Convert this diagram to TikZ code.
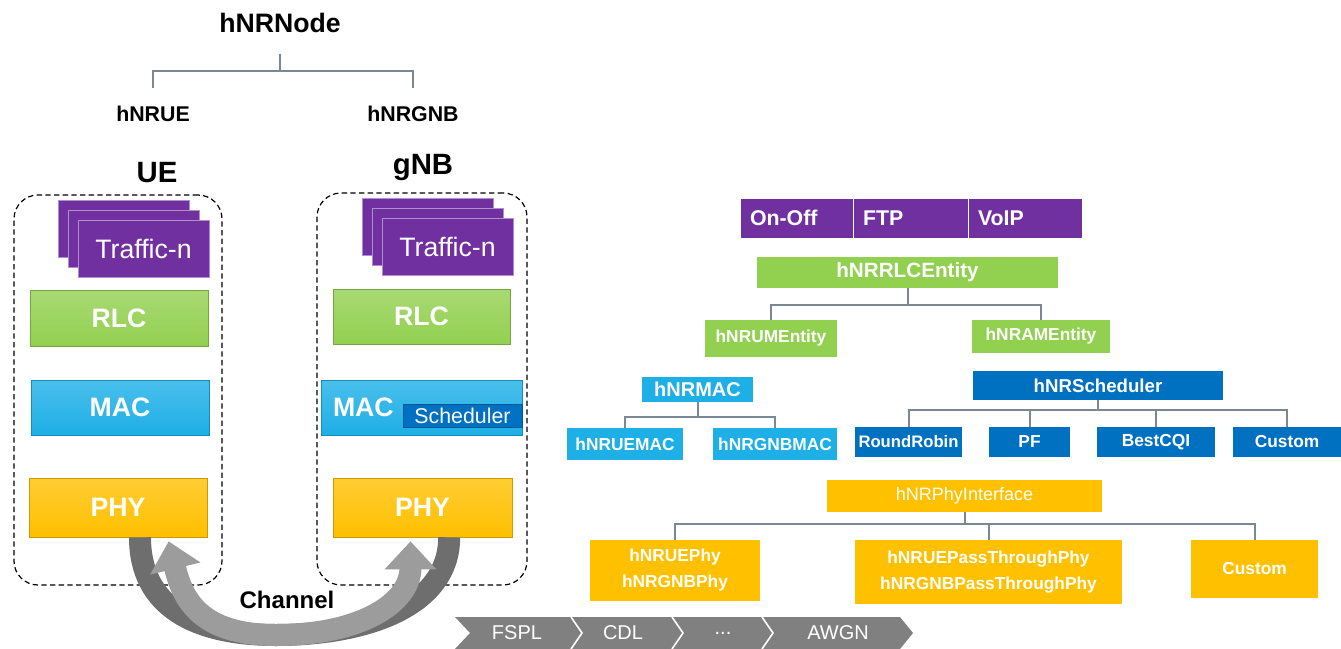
\documentclass[tikz,border=0pt]{standalone}
\usepackage{fontspec}
\setmainfont{Liberation Sans}
\usetikzlibrary{arrows.meta,positioning}

\definecolor{trafficpurple}{HTML}{7030A0}
\definecolor{rlcgreen}{HTML}{92D050}
\definecolor{maccyan}{HTML}{1DAFE6}
\definecolor{schedblue}{HTML}{0070C0}
\definecolor{phyyellow}{HTML}{FFC000}
\definecolor{treegray}{HTML}{7A8795}
\definecolor{chdark}{HTML}{6E6E6E}
\definecolor{chlight}{HTML}{9C9C9C}
\definecolor{pipegray}{HTML}{808080}

\begin{document}
\begin{tikzpicture}[
        x=0.75pt, y=-0.75pt,
        every node/.style={align=center, inner sep=0pt},
        dashframe/.style={rectangle, draw=black, dash pattern=on 4pt off 2.5pt,
                line width=0.9pt, rounded corners=18pt},
        layerbox/.style={rectangle, text=white, draw=#1!80!black, line width=0.5pt,
                top color=#1!80!white, bottom color=#1,
                font=\bfseries\fontsize{20}{24}\selectfont},
        trafficbox/.style={rectangle, fill=trafficpurple, draw=trafficpurple!55!white,
                line width=0.6pt, minimum width=98.25pt, minimum height=42.75pt,
                text=white, font=\fontsize{20}{24}\selectfont},
        cls/.style={rectangle, fill=#1, text=white,
                font=\bfseries\fontsize{13}{19.5}\selectfont},
        treeline/.style={draw=treegray, line width=1.5pt},
        chan/.style={line width=16.5pt},
        pipetxt/.style={text=white, font=\fontsize{15}{18}\selectfont},
    ]
    \useasboundingbox (0,0) rectangle (1341,649);
    \fill[white] (0,0) rectangle (1341,649);

    % node hierarchy
    \node[anchor=base, font=\bfseries\fontsize{20}{24}\selectfont] (nrnode) at (280,33) {hNRNode};
    \node[anchor=base, font=\bfseries\fontsize{16}{18}\selectfont] (nrue) at (153,122) {hNRUE};
    \node[anchor=base, font=\bfseries\fontsize{16}{18}\selectfont] (nrgnb) at (413,122) {hNRGNB};
    \draw[treeline, shorten >=14pt] (nrnode.south) ++(0,20) -- ++(0,17) -| (nrue.north);
    \draw[treeline, shorten >=14pt] (nrnode.south) ++(0,20) -- ++(0,17) -| (nrgnb.north);

    \node[anchor=base, font=\bfseries\fontsize{22}{26}\selectfont] (uelbl) at (157,182) {UE};
    \node[anchor=base, font=\bfseries\fontsize{22}{26}\selectfont] (gnblbl) at (423,175) {gNB};

    % UE stack
    \node[dashframe, minimum width=156pt, minimum height=292.5pt] (ueframe) at (118,390) {};
    \node[trafficbox] (uetr3) at (123.5,228.5) {};
    \node[trafficbox] (uetr2) at (133.5,238.5) {};
    \node[trafficbox] (uetr1) at (143.5,248.5) {Traffic-n};
    \node[layerbox=rlcgreen, minimum width=133.5pt, minimum height=42pt] (uerlc) at (119,318) {RLC};
    \node[layerbox=maccyan, minimum width=133.5pt, minimum height=41.25pt] (uemac) at (120,407.5) {MAC};
    \node[layerbox=phyyellow, minimum width=133.5pt, minimum height=44.25pt] (uephy) at (118,507.5) {PHY};

    % gNB stack
    \node[dashframe, minimum width=157.5pt, minimum height=294pt] (gframe) at (422,389) {};
    \node[trafficbox] (gtr3) at (427.5,226.5) {};
    \node[trafficbox] (gtr2) at (437.5,236.5) {};
    \node[trafficbox] (gtr1) at (447.5,246.5) {Traffic-n};
    \node[layerbox=rlcgreen, minimum width=132.75pt, minimum height=41.25pt] (grlc) at (421.5,316.5) {RLC};
    \node[layerbox=maccyan, minimum width=150.75pt, minimum height=41.25pt,
        text width=132.75pt, align=left] (gmac) at (421.5,407.5) {MAC};
    \node[rectangle, fill=schedblue, draw=schedblue!80!black, minimum width=89.25pt,
        minimum height=17pt, text=white, font=\fontsize{16}{18}\selectfont] (gsched) at (462.5,416) {Scheduler};
    \node[layerbox=phyyellow, minimum width=134.25pt, minimum height=44.25pt] (gphy) at (422.5,507.5) {PHY};

    % channel
    \coordinate (chbot) at (276,635);
    \draw[chan, chdark] ([xshift=16.5pt]uephy.south) .. controls +(0,70) and +(-80,0) .. (chbot);
    \draw[chan, chdark] ([xshift=20pt]gphy.south) .. controls +(0,70) and +(88,0) .. (chbot);
    \draw[chan, chlight, -{Triangle[width=37.5pt,length=21pt]}]
        (chbot) .. controls +(84,0) and +(0,62) .. ([xshift=-9pt,yshift=-3pt]gphy.south);
    \draw[chan, chlight, -{Triangle[width=37.5pt,length=21pt]}]
        (chbot) .. controls +(-76,0) and +(14,58) .. ([xshift=38pt,yshift=-3pt]uephy.south);
    \node[font=\bfseries\fontsize{18}{20}\selectfont] (chlbl) at (287,600) {Channel};

    % channel models
    \fill[pipegray] (455,617) -- (900,617) -- (913,633) -- (900,649) -- (455,649) -- (470,633) -- cycle;
    \draw[white, line width=1.2pt] (571,617) -- (582,633) -- (571,649);
    \draw[white, line width=1.2pt] (672,617) -- (683,633) -- (672,649);
    \draw[white, line width=1.2pt] (762,617) -- (773,633) -- (762,649);
    \node[pipetxt] (fspl) at (517,633) {FSPL};
    \node[pipetxt] (cdl) at (623,633) {CDL};
    \node[pipetxt] (dots) at (723,633) {...};
    \node[pipetxt] (awgn) at (838,633) {AWGN};

    % traffic classes
    \node[cls=trafficpurple, draw=white, line width=0.75pt, minimum height=30pt, inner xsep=7.5pt,
        text width=69.75pt, align=left, font=\bfseries\fontsize{16}{18}\selectfont] (onoff) at (796.5,218) {On-Off};
    \node[cls=trafficpurple, draw=white, line width=0.75pt, minimum height=30pt, inner xsep=7.5pt,
        text width=71.25pt, align=left, font=\bfseries\fontsize{16}{18}\selectfont] (ftp) at (910.5,218) {FTP};
    \node[cls=trafficpurple, draw=white, line width=0.75pt, minimum height=30pt, inner xsep=7.5pt,
        text width=70.5pt, align=left, font=\bfseries\fontsize{16}{18}\selectfont] (voip) at (1025,218) {VoIP};

    % RLC classes
    \node[cls=rlcgreen, minimum width=225.75pt, minimum height=23.25pt,
        font=\bfseries\fontsize{15.5}{18}\selectfont] (rlcent) at (907.5,272.5) {hNRRLCEntity};
    \node[cls=rlcgreen, minimum width=99pt, minimum height=27.75pt] (ument) at (771,338.5) {hNRUMEntity};
    \node[cls=rlcgreen, minimum width=103.5pt, minimum height=24.75pt] (ament) at (1041,336.5) {hNRAMEntity};
    \draw[treeline] (rlcent.south) -- ++(0,17) -| (ument.north);
    \draw[treeline] (rlcent.south) -- ++(0,17) -| (ament.north);

    % MAC classes
    \node[cls=maccyan, minimum width=83.25pt, minimum height=18.75pt,
        font=\bfseries\fontsize{15}{18}\selectfont] (nrmac) at (697.5,389.5) {hNRMAC};
    \node[cls=maccyan, minimum width=87pt, minimum height=24pt] (nruemac) at (625,444) {hNRUEMAC};
    \node[cls=maccyan, minimum width=93pt, minimum height=24pt] (nrgnbmac) at (775,444) {hNRGNBMAC};
    \draw[treeline] (nrmac.south) -- ++(0,15) -| (nruemac.north);
    \draw[treeline] (nrmac.south) -- ++(0,15) -| (nrgnbmac.north);

    % scheduler classes
    \node[cls=schedblue, minimum width=187.5pt, minimum height=21.75pt,
        font=\bfseries\fontsize{14}{16}\selectfont] (nrsched) at (1098,385.5) {hNRScheduler};
    \node[cls=schedblue, minimum width=80.25pt, minimum height=22.5pt,
        font=\bfseries\fontsize{12.5}{15}\selectfont] (rr) at (908.5,442) {RoundRobin};
    \node[cls=schedblue, minimum width=60.75pt, minimum height=22.5pt] (pf) at (1029.5,442) {PF};
    \node[cls=schedblue, minimum width=88.5pt, minimum height=22.5pt] (bcqi) at (1156,442) {BestCQI};
    \node[cls=schedblue, minimum width=81pt, minimum height=22.5pt] (scust) at (1287,442) {Custom};
    \foreach \c in {rr,pf,bcqi,scust}
        \draw[treeline] (nrsched.south) -- ++(0,10) -| (\c.north);

    % PHY classes
    \node[cls=phyyellow, minimum width=206.25pt, minimum height=24pt,
        font=\fontsize{13.5}{16}\selectfont] (phyif) at (964.5,496) {hNRPhyInterface};
    \node[cls=phyyellow, minimum width=127.5pt, minimum height=45.75pt] (nrphy) at (675,570.5) {hNRUEPhy\\hNRGNBPhy};
    \node[cls=phyyellow, minimum width=200.25pt, minimum height=48pt] (ptphy) at (988.5,572)
        {hNRUEPassThroughPhy\\hNRGNBPassThroughPhy};
    \node[cls=phyyellow, minimum width=95.25pt, minimum height=43.5pt] (pcust) at (1254.5,569) {Custom};
    \foreach \c in {nrphy,ptphy,pcust}
        \draw[treeline] (phyif.south) -- ++(0,12) -| (\c.north);

\end{tikzpicture}
\end{document}
